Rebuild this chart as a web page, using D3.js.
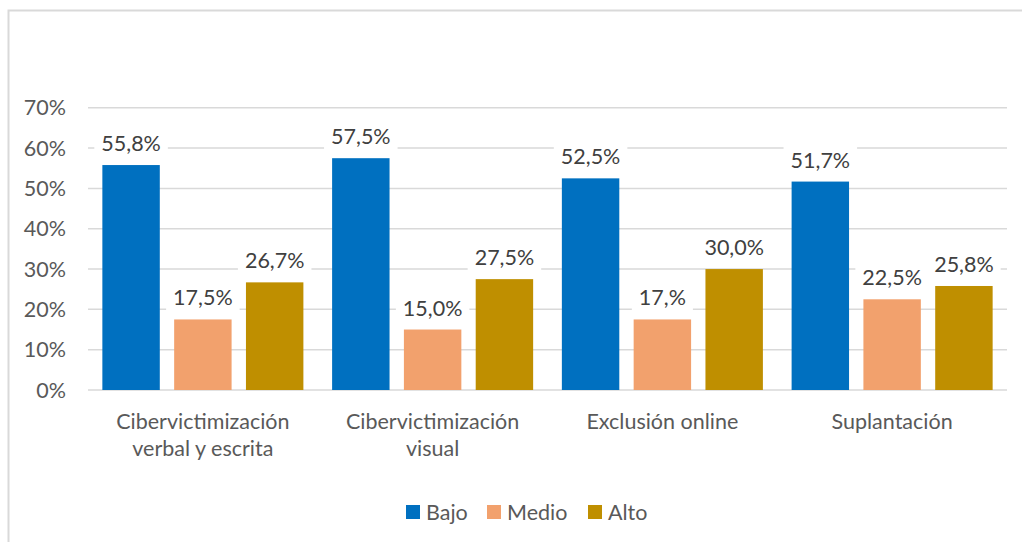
<!DOCTYPE html>
<html><head><meta charset="utf-8">
<script src="https://cdn.jsdelivr.net/npm/d3@7"></script>
<style>body{margin:0;background:#fff;}svg{display:block;}</style>
</head><body>
<svg id="c" width="1022" height="542"></svg>
<script>
const categories = ["Cibervictimización verbal y escrita","Cibervictimización visual","Exclusión online","Suplantación"];
const categoryLines = [["Cibervictimización","verbal y escrita"],["Cibervictimización","visual"],["Exclusión online"],["Suplantación"]];
const seriesNames = ["Bajo","Medio","Alto"];
const bajo = [55.8,57.5,52.5,51.7];
const medio = [17.5,15.0,17.5,22.5];
const alto = [26.7,27.5,30.0,25.8];
const bajoLabels = ["55,8%","57,5%","52,5%","51,7%"];
const medioLabels = ["17,5%","15,0%","17,%","22,5%"];
const altoLabels = ["26,7%","27,5%","30,0%","25,8%"];
const yTicks = [0,10,20,30,40,50,60,70];
const yTickLabels = ["0%","10%","20%","30%","40%","50%","60%","70%"];
const colors = ["#0070C0","#F2A16D","#BF8F00"];

const values = [bajo, medio, alto];
const labels = [bajoLabels, medioLabels, altoLabels];
const FONT = "Lato, 'Open Sans', sans-serif";
const FS = 21.5;

const svg = d3.select("#c");
// chart frame
svg.append("path").attr("d","M8.5,542 V10.5 H1022").attr("fill","none").attr("stroke","#d9d9d9").attr("stroke-width",2);

const x0 = d3.scaleBand().domain(categories).range([88,1007]).paddingInner(0).paddingOuter(0);
const x1 = d3.scaleBand().domain(seriesNames).range([0,x0.bandwidth()]).paddingInner(0.2).paddingOuter(0.2);
const y = d3.scaleLinear().domain([0,70]).range([390,107.8]);

// gridlines
svg.append("g").selectAll("line").data(yTicks).join("line")
  .attr("x1",88).attr("x2",1007)
  .attr("y1",d=>y(d)).attr("y2",d=>y(d))
  .attr("stroke","#d9d9d9").attr("stroke-width",1.5);

// y labels
svg.append("g").selectAll("text").data(yTicks).join("text")
  .attr("x",66).attr("y",d=>y(d)).attr("dy","0.35em")
  .attr("text-anchor","end").attr("font-family",FONT).attr("font-size",FS).attr("fill","#595959")
  .text((d,i)=>yTickLabels[i]);

// bars
const groups = svg.append("g").selectAll("g").data(categories).join("g")
  .attr("transform",d=>`translate(${x0(d)},0)`);
groups.each(function(cat,ci){
  const g = d3.select(this);
  seriesNames.forEach((s,si)=>{
    const v = values[si][ci];
    g.append("rect").attr("x",x1(s)).attr("width",x1.bandwidth())
      .attr("y",y(v)).attr("height",y(0)-y(v)).attr("fill",colors[si]);
  });
});
// data labels with white background
groups.each(function(cat,ci){
  const g = d3.select(this);
  seriesNames.forEach((s,si)=>{
    const v = values[si][ci];
    const cx = x1(s)+x1.bandwidth()/2;
    const t = g.append("text").attr("x",cx).attr("y",y(v)-14)
      .attr("text-anchor","middle").attr("font-family",FONT).attr("font-size",FS).attr("fill","#404040")
      .text(labels[si][ci]);
    const bb = t.node().getBBox();
    g.insert("rect", () => t.node()).attr("x",bb.x-7).attr("y",bb.y-1).attr("width",bb.width+14).attr("height",bb.height+3).attr("fill","#fff");
  });
});

// category labels
svg.append("g").selectAll("text").data(categories).join("text")
  .attr("x",d=>x0(d)+x0.bandwidth()/2).attr("y",429)
  .attr("text-anchor","middle").attr("font-family",FONT).attr("font-size",FS).attr("fill","#595959")
  .each(function(d,i){
    const t = d3.select(this);
    categoryLines[i].forEach((ln,li)=>{
      t.append("tspan").attr("x",x0(d)+x0.bandwidth()/2).attr("dy",li===0?0:27).text(ln);
    });
  });

// legend
const legendX = [406,487,588];
const lg = svg.append("g").selectAll("g").data(seriesNames).join("g")
  .attr("transform",(d,i)=>`translate(${legendX[i]},505)`);
lg.append("rect").attr("width",14).attr("height",14).attr("fill",(d,i)=>colors[i]);
lg.append("text").attr("x",20).attr("y",14.5).attr("font-family",FONT).attr("font-size",FS).attr("fill","#595959").text(d=>d);
</script>
</body></html>
